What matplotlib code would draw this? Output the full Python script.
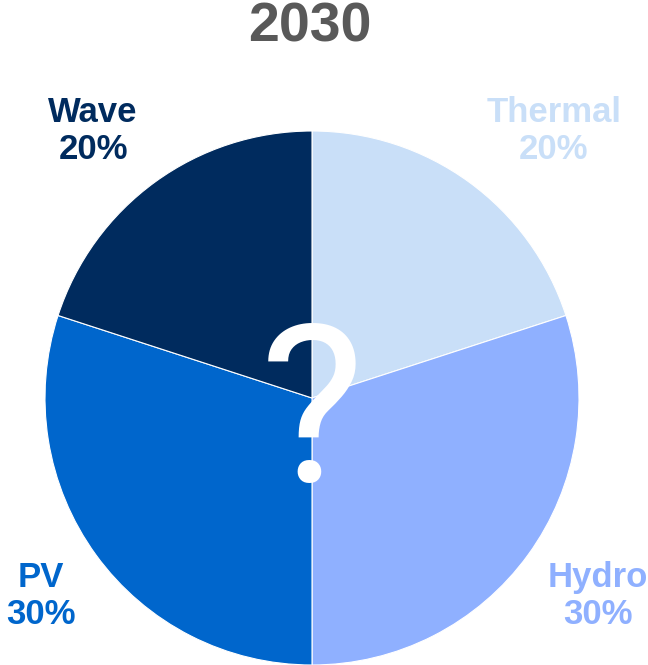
import matplotlib.pyplot as plt

plt.rcParams['font.family'] = ['Liberation Sans', 'DejaVu Sans']

# share of each source, clockwise from 12 o'clock
sources = ['Thermal', 'Hydro', 'PV', 'Wave']
shares = [20, 30, 30, 20]
colors = ['#C9DFF8', '#8FB0FF', '#0066CC', '#002B5E']
title = '2030'

W, H = 648, 665
fig = plt.figure(figsize=(W / 100, H / 100), dpi=100)
ax = fig.add_axes([0, 0, 1, 1])

cx, cy, r = 312, H - 398, 267
ax.pie(shares, colors=colors, startangle=90, counterclock=False,
       center=(cx, cy), radius=r, frame=True,
       wedgeprops=dict(edgecolor='white', linewidth=0.8))
ax.set_xlim(0, W)
ax.set_ylim(0, H)
ax.set_aspect('equal')
ax.axis('off')

# big question mark over the middle
ax.text(cx, H - 482, '?', ha='center', va='baseline', fontsize=159,
        color='white', family='Roboto')

# slice labels sit outside the pie corners
label_pos = {'Thermal': (554, 131), 'Hydro': (598, 596),
             'PV': (41, 596), 'Wave': (93, 131)}
for name, val, col in zip(sources, shares, colors):
    x, y = label_pos[name]
    ax.text(x, H - y, f'{name}\n{val}%', ha='center', va='center',
            fontsize=25, fontweight='bold', color=col, linespacing=1.12)

ax.text(310, H - 42, title, ha='center', va='baseline', fontsize=40,
        fontweight='bold', color='#595959')

fig.savefig('out.png', dpi=100)
